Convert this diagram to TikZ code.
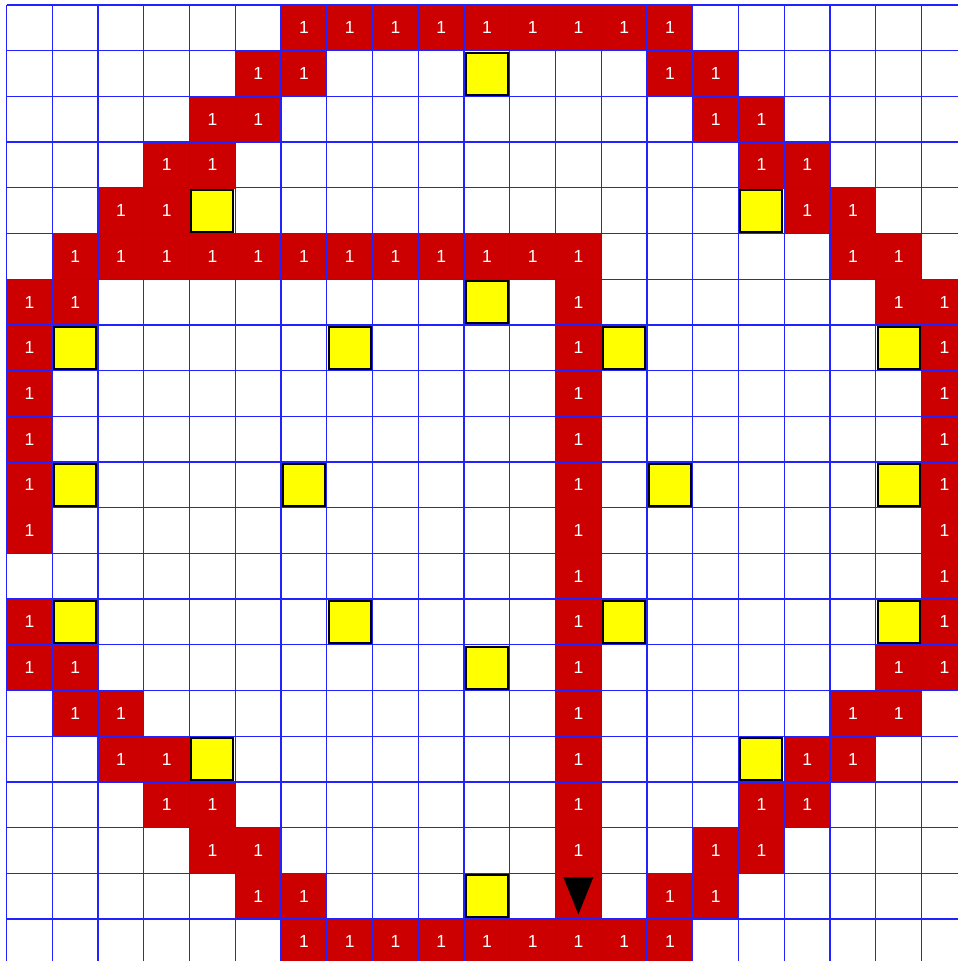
\documentclass[tikz,border=0pt]{standalone}
\usepackage{fontspec}
\setmainfont{Liberation Sans}
\definecolor{cellred}{HTML}{CC0000}
\definecolor{gridblue}{HTML}{2222FF}
\definecolor{markyellow}{HTML}{FFFF00}
\begin{document}
\begin{tikzpicture}[x=1pt,y=-1pt,
  redcell/.style={fill=cellred,draw=cellred,line width=0.6pt},
  onetext/.style={text=white,font=\fontsize{17.5}{17.5}\selectfont,inner sep=0pt,anchor=center},
  gridline/.style={draw=gridblue,line width=1.3pt},
  yellowcell/.style={fill=markyellow,draw=black,line width=2pt},
  marker/.style={fill=black}]
\useasboundingbox (0,0) rectangle (958,961);
\clip (0,0) rectangle (958,961);
\fill[white] (0,0) rectangle (958,961);
% red cells with "1"
\foreach \r/\cols in {
  0/{6,7,8,9,10,11,12,13,14},
  1/{5,6,14,15},
  2/{4,5,15,16},
  3/{3,4,16,17},
  4/{2,3,17,18},
  5/{1,2,3,4,5,6,7,8,9,10,11,12,18,19},
  6/{0,1,12,19,20},
  7/{0,12,20},
  8/{0,12,20},
  9/{0,12,20},
  10/{0,12,20},
  11/{0,12,20},
  12/{12,20},
  13/{0,12,20},
  14/{0,1,12,19,20},
  15/{1,2,12,18,19},
  16/{2,3,12,17,18},
  17/{3,4,12,16,17},
  18/{4,5,12,15,16},
  19/{5,6,14,15},
  20/{6,7,8,9,10,11,12,13,14}}{
  \foreach \c in \cols {
    \path[redcell] ({6.5+45.75*\c},{5+45.7*\r}) rectangle ({6.5+45.75*(\c+1)},{5+45.7*(\r+1)});
    \node[onetext] (one-\c-\r) at ({6.5+45.75*(\c+0.5)},{5+45.7*(\r+0.5)}) {1};
  }
}
% red cell with the marker
\path[redcell] ({6.5+45.75*12},{5+45.7*19}) rectangle ({6.5+45.75*13},{5+45.7*20});
% grid
\foreach \k in {0,...,21} {
  \draw[gridline] ({6.5+45.75*\k},5) -- ({6.5+45.75*\k},961);
  \draw[gridline] (6.5,{5+45.7*\k}) -- (958,{5+45.7*\k});
}
% yellow cells
\foreach \c/\r in {10/1,4/4,16/4,10/6,1/7,7/7,13/7,19/7,1/10,6/10,14/10,19/10,1/13,7/13,13/13,19/13,10/14,4/16,16/16,10/19} {
  \path[yellowcell] ({6.5+45.75*\c+1.8},{5+45.7*\r+1.8}) rectangle ({6.5+45.75*(\c+1)-1.8},{5+45.7*(\r+1)-1.8});
}
% marker triangle
\path[marker] ({6.5+45.75*12.5-15},{5+45.7*19+4}) -- ({6.5+45.75*12.5+15},{5+45.7*19+4}) -- ({6.5+45.75*12.5},{5+45.7*19+41}) -- cycle;
\end{tikzpicture}
\end{document}
